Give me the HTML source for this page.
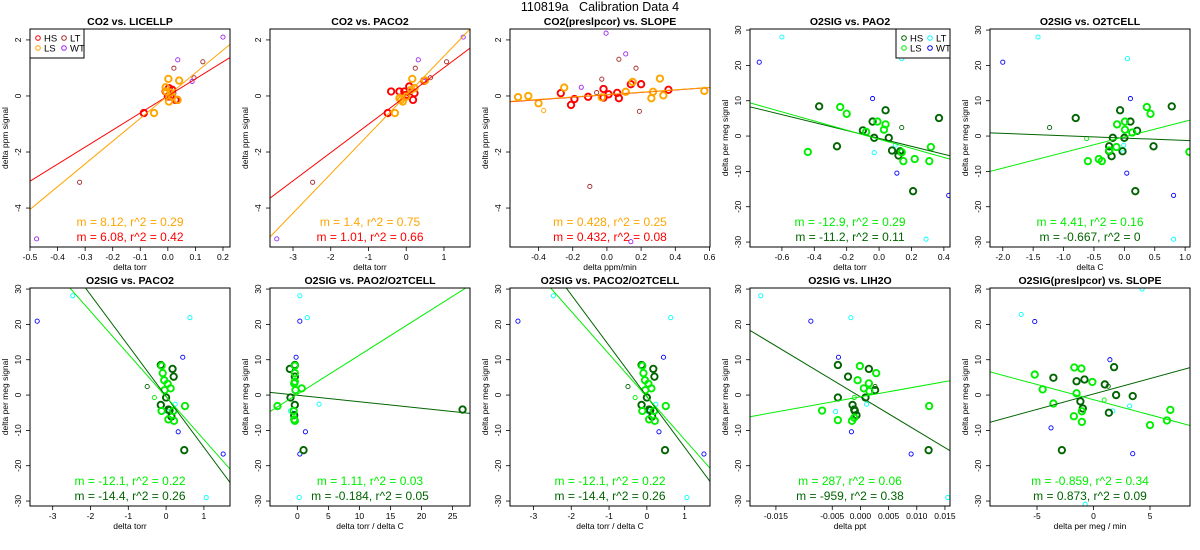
<!DOCTYPE html>
<html><head><meta charset="utf-8">
<style>
html,body{margin:0;padding:0;background:#fff;}
svg{display:block;font-family:"Liberation Sans",Arial,sans-serif;}
</style></head>
<body>
<svg id="chart" width="1200" height="550" viewBox="0 0 1200 550">
<text x="600" y="11" text-anchor="middle" font-size="12.5" xml:space="preserve">110819a&#160;&#160;&#160;Calibration Data 4</text>
</svg>
<script>
// ---------- DATA ----------
const panelTitles = ["CO2 vs. LICELLP","CO2 vs. PACO2","CO2(preslpcor) vs. SLOPE","O2SIG vs. PAO2","O2SIG vs. O2TCELL",
  "O2SIG vs. PACO2","O2SIG vs. PAO2/O2TCELL","O2SIG vs. PACO2/O2TCELL","O2SIG vs. LIH2O","O2SIG(preslpcor) vs. SLOPE"];
const xLabels = ["delta torr","delta torr","delta ppm/min","delta torr","delta C","delta torr","delta torr / delta C","delta torr / delta C","delta ppt","delta per meg / min"];
const xDomains = [[-0.5,0.2255],[-3.61,1.69],[-0.567,0.603],[-0.797,0.438],[-2.21,1.08],[-3.60,1.69],[-4.4,27.8],[-3.62,1.67],[-0.0196,0.0159],[-9.16,8.54]];
const xTicks = [[-0.5,-0.4,-0.3,-0.2,-0.1,0,0.1,0.2],[-3,-2,-1,0,1],[-0.4,-0.2,0,0.2,0.4,0.6],[-0.6,-0.4,-0.2,0,0.2,0.4],[-2,-1.5,-1,-0.5,0,0.5,1],
  [-3,-2,-1,0,1],[0,5,10,15,20,25],[-3,-2,-1,0,1],[-0.015,-0.005,0,0.005,0.01,0.015],[-5,0,5]];
const xTickLabels = [["-0.5","-0.4","-0.3","-0.2","-0.1","0.0","0.1","0.2"],["-3","-2","-1","0","1"],["-0.4","-0.2","0.0","0.2","0.4","0.6"],["-0.6","-0.4","-0.2","0.0","0.2","0.4"],["-2.0","-1.5","-1.0","-0.5","0.0","0.5","1.0"],
  ["-3","-2","-1","0","1"],["0","5","10","15","20","25"],["-3","-2","-1","0","1"],["-0.015","-0.005","0.000","0.005","0.010","0.015"],["-5","0","5"]];
const co2YTicks = [-4,-2,0,2];
const o2YTicks = [-30,-20,-10,0,10,20,30];

// points: [x,y]
const p1HS = [[-0.087,-0.61],[0.004,0.28],[0.010,-0.02],[0.028,-0.14],[0.035,-0.14],[-0.008,0.16],[0.016,0.22],[0,-0.02]];
const p1LS = [[-0.05,-0.61],[0.002,0.61],[0.041,0.55],[0.004,-0.2],[0.035,-0.14],[-0.006,0.16],[-0.008,0.31],[0.01,0.12],[0.016,-0.02]];
const p1LT = [[-0.32,-3.08],[0.022,0.99],[0.127,1.22],[0.095,0.65],[0.022,0.1]];
const p1WT = [[-0.476,-5.1],[0.036,1.29],[0.2,2.1],[0.088,0.52]];

const p2HS = [[-0.49,-0.61],[-0.4,0.16],[-0.18,0.16],[-0.05,0.16],[0.08,0.34],[0.18,-0.14],[0.22,0.1],[0,0.04],[0.48,0.54]];
const p2LS = [[-0.3,-0.61],[0.16,0.61],[0.5,0.55],[-0.14,-0.14],[-0.09,-0.2],[-0.18,-0.08],[0.13,0.22],[0.22,0.28],[0,-0.02]];
const p2LT = [[-2.48,-3.08],[0.24,0.99],[1.07,1.22],[0.64,0.65],[0.06,0.08]];
const p2WT = [[-3.43,-5.1],[0.32,1.29],[1.51,2.1],[0.47,0.52]];

const p3HS = [[-0.27,0.1],[-0.21,-0.32],[-0.19,-0.11],[-0.11,-0.03],[-0.02,0.25],[-0.02,-0.06],[0.01,0.06],[0.06,0.11],[0.07,-0.08],[0.14,0.42],[0.2,0.42],[0.36,0.22]];
const p3LS = [[-0.52,-0.04],[-0.46,0.0],[-0.4,-0.26],[-0.25,0.3],[-0.03,-0.05],[0.11,0.15],[0.15,0.5],[0.26,-0.08],[0.27,0.15],[0.31,0.62],[0.33,0.02],[0.57,0.18]];
const p3LSsmall = [[-0.37,-0.52]];
const p3LT = [[-0.10,-3.23],[-0.03,0.6],[0.07,1.31],[0.17,0.99],[0.19,-0.55],[-0.06,0.12]];
const p3WT = [[-0.005,2.24],[0.11,1.5],[-0.15,0.31],[0.14,-5.2]];

const p4HS = [[-0.37,8.4],[-0.26,-2.9],[-0.04,4.1],[-0.03,-0.5],[0.04,7.3],[0.06,-0.5],[0.08,-4.1],[0.12,-5.5],[0.13,-4.3],[0.21,-15.6],[0.37,5.1],[-0.10,1.6]];
const p4HSsmall = [[0.14,2.4]];
const p4LS = [[-0.44,-4.5],[-0.24,8.2],[-0.20,6.3],[-0.08,1.2],[-0.01,4.1],[0.03,1.8],[0.04,3.3],[0.14,-4.6],[0.15,-7.1],[0.22,-6.5],[0.31,-7.1],[0.32,-3.1]];
const p4LT = [[-0.6,28],[0.14,21.9],[0.10,-2.6],[-0.03,-4.7],[0.29,-29.2]];
const p4WT = [[-0.74,20.9],[-0.04,10.6],[0.11,-10.5],[0.43,-16.8]];

const p5HS = [[-0.8,5.1],[-0.25,-2.9],[-0.19,-0.5],[-0.21,-5.7],[-0.25,-4.3],[-0.07,7.3],[0,-0.5],[-0.03,-4.3],[0.1,4.1],[0.21,1.5],[0.18,-15.6],[0.48,-2.9],[0.78,8.4]];
const p5HSsmall = [[-1.23,2.4]];
const p5LS = [[-0.6,-7.1],[-0.42,-6.5],[-0.37,-7.1],[-0.25,-4.1],[-0.13,-3.1],[-0.12,3.3],[0.01,4.1],[0.01,1.8],[0.13,1.0],[0.37,8.2],[0.43,6.3],[1.07,-4.5]];
const p5LSsmall = [[-0.62,-0.7]];
const p5LT = [[-1.42,28],[0.05,21.9],[-0.01,-2.6],[-0.02,-4.7],[0.81,-29.2]];
const p5WT = [[-2.0,20.9],[0.1,10.6],[0.04,-10.5],[0.81,-16.8]];

const p6HS = [[-0.14,8.5],[0.17,7.4],[0.2,5.2],[0,-0.7],[-0.14,-2.8],[0.06,-4.1],[0.14,-6.1],[0.48,-15.6],[0.09,-4.3]];
const p6HSsmall = [[-0.5,2.4]];
const p6LS = [[-0.12,8.3],[-0.09,6.2],[-0.05,4.2],[0.04,3.2],[0.12,1.9],[-0.04,1.4],[-0.12,-4.5],[0.06,-6.9],[0.21,-7.3],[0.5,-3.1],[0.19,-4.5]];
const p6LSsmall = [[-0.31,-0.7]];
const p6LT = [[-2.47,28.1],[0.63,21.9],[0.24,-2.6],[0.04,-4.7],[1.06,-29]];
const p6WT = [[-3.41,20.9],[0.44,10.7],[0.32,-10.4],[1.51,-16.7]];

const p7HS = [[-1.2,7.4],[-0.4,8.5],[-0.4,5.2],[-1.1,-0.7],[-0.4,-2.8],[-0.5,-5.7],[1.0,-15.6],[26.6,-4.1]];
const p7LS = [[-3.2,-3.1],[-0.4,6.2],[-0.5,3.3],[-0.3,1.4],[0.7,1.9],[-0.6,-4.5],[-0.5,-6.9],[-0.4,-7.3],[-0.4,3.8],[-0.4,8.3]];
const p7LT = [[0.4,28.1],[1.6,21.9],[3.5,-2.6],[-1.1,-4.5],[0.3,-29]];
const p7WT = [[0.4,20.9],[-0.2,10.7],[1.3,-10.4],[0.4,-16.7]];

const p9HS = [[-0.0040,8.5],[-0.0022,5.2],[-0.0040,-0.7],[-0.0014,-2.8],[-0.0011,-4.1],[-0.0010,-4.5],[-0.0007,-5.7],[0.0009,-0.7],[0.0015,7.4],[0.0026,1.4],[0.0121,-15.6]];
const p9HSsmall = [[0.0026,2.4]];
const p9LS = [[-0.0068,-4.4],[-0.0040,-7.1],[-0.0015,-7.3],[-0.0011,-6.4],[-0.0005,4.2],[-0.0001,8.2],[0.0006,1.9],[0.0015,3.3],[0.0016,1.1],[0.0028,6.2],[0.0122,-3.1]];
const p9LSsmall = [[-0.0011,-0.7]];
const p9LT = [[-0.0177,28.1],[-0.0017,21.9],[-0.0044,-4.7],[0.0011,-2.6],[0.0155,-29]];
const p9WT = [[-0.0088,20.9],[-0.0039,10.7],[-0.0016,-10.4],[0.0090,-16.7]];

const p10HS = [[-3.55,4.9],[-2.8,-15.6],[-1.5,3.9],[-1.16,-1.8],[-0.95,-3.8],[-0.8,4.4],[1.0,3.0],[1.36,-5.0],[1.82,7.9],[2.0,0.0],[3.47,-0.3]];
const p10HSsmall = [[1.3,2.5]];
const p10LS = [[-5.2,5.8],[-4.5,1.6],[-3.55,-2.4],[-1.7,7.8],[-1.5,0.5],[-1.74,-6.0],[-1.07,7.5],[-1.03,-4.6],[-1.03,-7.6],[-0.1,3.7],[5.0,-8.5],[6.5,-7.2],[6.8,-4.2]];
const p10LSsmall = [[0.95,-1.4]];
const p10LT = [[-6.4,22.8],[4.3,30],[1.7,-4.5],[3.2,-3.1],[-0.74,-30.9]];
const p10WT = [[-5.2,20.8],[1.45,10],[-3.76,-9.3],[3.47,-16.6]];

// regression: slopes & intercepts [LS, HS]
const slopesLS = [8.12,1.4,0.428,-12.9,4.41,-12.1,1.11,-12.1,287,-0.859];
const interceptsLS = [0.01,0.02,0.05,-0.9,-0.25,-0.5,0.2,-0.5,-0.5,-1.3];
const slopesHS = [6.08,1.01,0.432,-11.2,-0.667,-14.4,-0.184,-14.4,-959,0.873];
const interceptsHS = [0.0,0.0,0.04,-0.66,-0.57,-0.4,-0.06,-0.4,-0.5,0.3];
const statsLS = ["m = 8.12, r^2 = 0.29","m = 1.4, r^2 = 0.75","m = 0.428, r^2 = 0.25","m = -12.9, r^2 = 0.29","m = 4.41, r^2 = 0.16","m = -12.1, r^2 = 0.22","m = 1.11, r^2 = 0.03","m = -12.1, r^2 = 0.22","m = 287, r^2 = 0.06","m = -0.859, r^2 = 0.34"];
const statsHS = ["m = 6.08, r^2 = 0.42","m = 1.01, r^2 = 0.66","m = 0.432, r^2 = 0.08","m = -11.2, r^2 = 0.11","m = -0.667, r^2 = 0","m = -14.4, r^2 = 0.26","m = -0.184, r^2 = 0.05","m = -14.4, r^2 = 0.26","m = -959, r^2 = 0.38","m = 0.873, r^2 = 0.09"];

// ---------- RENDER ----------
const NS = "http://www.w3.org/2000/svg";
const svg = document.getElementById("chart");
const CO2C = {HS:"#ff0000",LS:"#ffa500",LT:"#a52a2a",WT:"#a020f0"};
const O2C = {HS:"#006400",LS:"#00ee00",LT:"#00ffff",WT:"#0000ff"};
function mk(tag, attrs, parent){const e=document.createElementNS(NS,tag);for(const k in attrs)e.setAttribute(k,attrs[k]);(parent||svg).appendChild(e);return e;}

const groupsByPanel = [
  {HS:p1HS,LS:p1LS,LT:p1LT,WT:p1WT},
  {HS:p2HS,LS:p2LS,LT:p2LT,WT:p2WT},
  {HS:p3HS,LS:p3LS,LSs:p3LSsmall,LT:p3LT,WT:p3WT},
  {HS:p4HS,HSs:p4HSsmall,LS:p4LS,LT:p4LT,WT:p4WT},
  {HS:p5HS,HSs:p5HSsmall,LS:p5LS,LSs:p5LSsmall,LT:p5LT,WT:p5WT},
  {HS:p6HS,HSs:p6HSsmall,LS:p6LS,LSs:p6LSsmall,LT:p6LT,WT:p6WT},
  {HS:p7HS,LS:p7LS,LT:p7LT,WT:p7WT},
  {HS:p6HS,HSs:p6HSsmall,LS:p6LS,LSs:p6LSsmall,LT:p6LT,WT:p6WT},
  {HS:p9HS,HSs:p9HSsmall,LS:p9LS,LSs:p9LSsmall,LT:p9LT,WT:p9WT},
  {HS:p10HS,HSs:p10HSsmall,LS:p10LS,LSs:p10LSsmall,LT:p10LT,WT:p10WT}
];

for(let i=0;i<10;i++){
  const col=i%5,row=Math.floor(i/5);
  const L=30+240*col,W=200,T=row?288:29,H=218;
  const isCO2=i<3;
  const C=isCO2?CO2C:O2C;
  const yd=isCO2?[-5.39,2.39]:[-31.4,30.3];
  const xd=xDomains[i];
  const sx=v=>L+(v-xd[0])/(xd[1]-xd[0])*W;
  const sy=v=>T+H-(v-yd[0])/(yd[1]-yd[0])*H;
  const g=mk("g",{});
  
  
  const cp=mk("clipPath",{id:"cp"+i},g);
  mk("rect",{x:L,y:T,width:W,height:H},cp);
  const tt=mk("text",{x:L+W/2,y:T-4,"text-anchor":"middle","font-size":"10.5","font-weight":"bold"},g);
  tt.textContent=panelTitles[i];
  
  
  xTicks[i].forEach((v,k)=>{
    const x=sx(v);
    mk("line",{x1:x,x2:x,y1:T+H,y2:T+H+4,stroke:"#000","stroke-width":"0.8"},g);
    const t=mk("text",{x:x,y:T+H+13,"text-anchor":"middle","font-size":"8.5"},g);
    t.textContent=xTickLabels[i][k];
    
    
  });
  const xl=mk("text",{x:L+W/2,y:T+H+23,"text-anchor":"middle","font-size":"8.5"},g);
  xl.textContent=xLabels[i];
  
  
  (isCO2?co2YTicks:o2YTicks).forEach(v=>{
    const y=sy(v);
    mk("line",{x1:L-4,x2:L,y1:y,y2:y,stroke:"#000","stroke-width":"0.8"},g);
    const t=mk("text",{x:L-9,y:y,"text-anchor":"middle","font-size":"8.5",transform:`rotate(-90 ${L-9} ${y})`},g);
    t.textContent=String(v);
    
    
  });
  const yx=L-22,yy=T+H/2;
  const yl=mk("text",{x:yx,y:yy,"text-anchor":"middle","font-size":"8.5",transform:`rotate(-90 ${yx} ${yy})`},g);
  yl.textContent=isCO2?"delta ppm signal":"delta per meg signal";
  
  
  const G=groupsByPanel[i];
  const order=["LT","WT","HSs","LSs","HS","LS"];
  order.forEach(k=>{
    if(!G[k])return;
    const base=k.replace("s","");
    const small=(k==="LT"||k==="WT"||k.endsWith("s"));
    G[k].forEach(p=>{
      const c=mk("circle",{cx:sx(p[0]),cy:sy(p[1]),r:small?2.1:3.2,fill:"none",stroke:C[base],"stroke-width":small?0.9:1.9,"clip-path":`url(#cp${i})`},g);
      
      
    });
  });
  [[slopesHS[i],interceptsHS[i],C.HS,"hs"],[slopesLS[i],interceptsLS[i],C.LS,"ls"]].forEach(([m,b,c,n])=>{
    const ln=mk("line",{x1:sx(xd[0]),y1:sy(m*xd[0]+b),x2:sx(xd[1]),y2:sy(m*xd[1]+b),stroke:c,"stroke-width":"1","clip-path":`url(#cp${i})`},g);
    
    
  });
  const s1=mk("text",{x:L+W/2,y:T+H-21,"text-anchor":"middle","font-size":"12",fill:C.LS},g);
  s1.textContent=statsLS[i];
  
  
  const s2=mk("text",{x:L+W/2,y:T+H-6,"text-anchor":"middle","font-size":"12",fill:C.HS},g);
  s2.textContent=statsHS[i];
  
  
  const bx=mk("rect",{x:L,y:T,width:W,height:H,fill:"none",stroke:"#000","stroke-width":"1"},g);
  
  
  if(i===0||i===3){
    const lx=i===0?L:L+W-54,ly=T;
    const lg=mk("g",{},g);
    
    
    mk("rect",{x:lx,y:ly,width:54,height:29,fill:"#fff",stroke:"#000","stroke-width":"1"},lg);
    [["HS",0,0],["LT",1,0],["LS",0,1],["WT",1,1]].forEach(([k,cx,cy])=>{
      const ex=lx+8+cx*26,ey=ly+9+cy*10;
      const c=mk("circle",{cx:ex,cy:ey,r:2.3,fill:"none",stroke:C[k],"stroke-width":"1"},lg);
      
      
      const t=mk("text",{x:ex+6,y:ey+3.5,"font-size":"9.5"},lg);
      t.textContent=k;
      
      
    });
  }
}
</script>
</body></html>
